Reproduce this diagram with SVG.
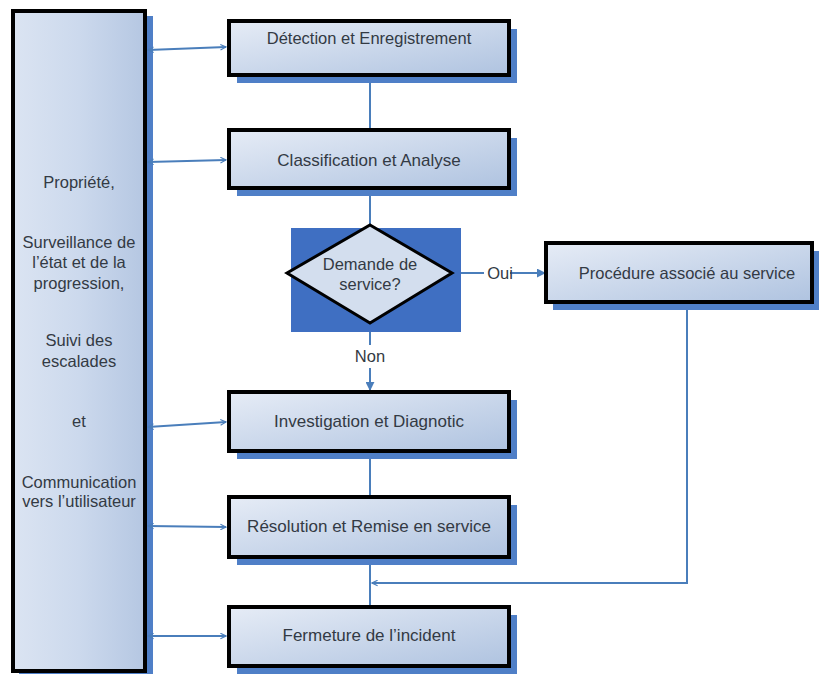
<svg xmlns="http://www.w3.org/2000/svg" width="821" height="675" viewBox="0 0 821 675">
<defs>
<linearGradient id="g" x1="0" y1="0" x2="1" y2="1">
<stop offset="0" stop-color="#e6ecf6"/>
<stop offset="1" stop-color="#afc3e0"/>
</linearGradient>
<linearGradient id="gl" x1="0" y1="0" x2="1" y2="0">
<stop offset="0" stop-color="#dbe4f2"/>
<stop offset="0.5" stop-color="#ccd9ed"/>
<stop offset="1" stop-color="#b5c7e2"/>
</linearGradient>
<marker id="ah" viewBox="0 0 10 10" refX="9" refY="5" markerWidth="7" markerHeight="7" orient="auto-start-reverse" markerUnits="userSpaceOnUse">
<path d="M1,1 L9,5 L1,9" fill="none" stroke="#4a7ebb" stroke-width="1.6"/>
</marker>
<marker id="af" viewBox="0 0 10 10" refX="9" refY="5" markerWidth="9" markerHeight="9" orient="auto" markerUnits="userSpaceOnUse">
<path d="M0,0 L10,5 L0,10 Z" fill="#4a7ebb"/>
</marker>
</defs>
<style>
.sh{fill:#4f7fc7}
.bx{fill:url(#g);stroke:#000;stroke-width:4}
.t{font-family:"Liberation Sans",Arial,sans-serif;font-size:16.5px;fill:#333a44;text-anchor:middle}
.tb{font-size:17px}
.c{fill:none;stroke:#4a7ebb;stroke-width:2}
</style>
<rect width="821" height="675" fill="#fff"/>

<g id="left">
<rect class="sh" x="145" y="16" width="8" height="658"/>
<rect class="sh" x="19" y="669" width="134" height="5"/>
<rect x="13" y="11" width="132" height="660" fill="url(#gl)" stroke="#000" stroke-width="4"/>
<text class="t" x="79" y="188">Propriété,</text>
<text class="t" x="79" y="248">Surveillance de</text>
<text class="t" x="79" y="268">l’état et de la</text>
<text class="t" x="79" y="289">progression,</text>
<text class="t" x="79" y="346">Suivi des</text>
<text class="t" x="79" y="367">escalades</text>
<text class="t" x="79" y="427">et</text>
<text class="t" x="79" y="488">Communication</text>
<text class="t" x="79" y="507">vers l’utilisateur</text>
</g>

<g id="connectors">
<line class="c" x1="148" y1="50" x2="226" y2="47" marker-start="url(#ah)" marker-end="url(#ah)"/>
<line class="c" x1="148" y1="162" x2="226" y2="160" marker-start="url(#ah)" marker-end="url(#ah)"/>
<line class="c" x1="148" y1="427" x2="226" y2="422" marker-start="url(#ah)" marker-end="url(#ah)"/>
<line class="c" x1="148" y1="526" x2="226" y2="527" marker-start="url(#ah)" marker-end="url(#ah)"/>
<line class="c" x1="148" y1="636" x2="226" y2="636" marker-start="url(#ah)" marker-end="url(#ah)"/>
<line class="c" x1="370" y1="75" x2="370" y2="130"/>
<line class="c" x1="370" y1="188" x2="370" y2="226"/>
<line class="c" x1="370" y1="323" x2="370" y2="345"/>
<line class="c" x1="370" y1="368" x2="370" y2="390" marker-end="url(#af)"/>
<line class="c" x1="452" y1="273" x2="484" y2="273"/>
<line class="c" x1="510" y1="273" x2="545" y2="273" marker-end="url(#af)"/>
<line class="c" x1="370" y1="451" x2="370" y2="497"/>
<line class="c" x1="370" y1="557" x2="370" y2="607"/>
<polyline class="c" points="687,303 687,583 372,583" marker-end="url(#ah)"/>
<text class="t" x="500" y="279">Oui</text>
<text class="t" x="370" y="362">Non</text>
</g>

<g id="detection">
<rect class="sh" x="237" y="29" width="280" height="54"/>
<rect class="bx" x="229" y="21" width="280" height="54"/>
<text class="t" x="369" y="44">Détection et Enregistrement</text>
</g>

<g id="classification">
<rect class="sh" x="237" y="138" width="280" height="58"/>
<rect class="bx" x="229" y="130" width="280" height="58"/>
<text class="t tb" x="369" y="166">Classification et Analyse</text>
</g>

<g id="decision">
<rect x="291" y="228" width="170" height="104" fill="#3f6fc2"/>
<polygon points="370,225 452,273 370,323 287,273" fill="#d3deee" stroke="#000" stroke-width="3"/>
<text class="t" x="370" y="270">Demande de</text>
<text class="t" x="370" y="290">service?</text>
</g>

<g id="procedure">
<rect class="sh" x="553" y="251" width="266" height="59"/>
<rect class="bx" x="546" y="243" width="266" height="59"/>
<text class="t" x="687" y="279">Procédure associé au service</text>
</g>

<g id="investigation">
<rect class="sh" x="237" y="400" width="280" height="59"/>
<rect class="bx" x="229" y="392" width="280" height="59"/>
<text class="t tb" x="369" y="427">Investigation et Diagnotic</text>
</g>

<g id="resolution">
<rect class="sh" x="237" y="505" width="280" height="60"/>
<rect class="bx" x="229" y="497" width="280" height="60"/>
<text class="t tb" x="369" y="532">Résolution et Remise en service</text>
</g>

<g id="fermeture">
<rect class="sh" x="237" y="615" width="280" height="59"/>
<rect class="bx" x="229" y="607" width="280" height="59"/>
<text class="t tb" x="369" y="641">Fermeture de l’incident</text>
</g>
</svg>
